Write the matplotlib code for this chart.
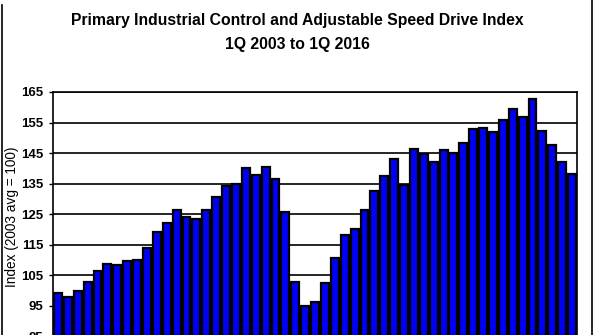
import matplotlib
matplotlib.use("Agg")
import matplotlib.pyplot as plt
from matplotlib.lines import Line2D
import numpy as np

plt.rcParams['font.family'] = ['Liberation Sans', 'DejaVu Sans']

# quarterly index, 1Q 2003 .. 1Q 2016
quarters = [f"{q}Q {y}" for y in range(2003, 2017) for q in range(1, 5)][:53]
index_vals = [
    99.2, 97.8, 99.8, 102.9, 106.5, 108.7, 108.4, 109.7, 110.0, 113.9,
    119.3, 122.0, 126.5, 124.2, 123.4, 126.2, 130.6, 134.1, 135.0, 140.0,
    137.8, 140.4, 136.5, 125.6, 102.9, 94.9, 96.2, 102.6, 110.8, 118.2,
    120.2, 126.2, 132.7, 137.4, 143.1, 134.5, 146.3, 144.8, 142.0, 145.9,
    145.0, 148.3, 152.9, 153.2, 151.8, 155.9, 159.4, 156.7, 162.6, 152.1,
    147.5, 142.2, 138.2,
]
y_ticks = [85, 95, 105, 115, 125, 135, 145, 155, 165]

fig = plt.figure(figsize=(5.95, 3.35), dpi=100)
fig.patch.set_facecolor('white')

# plot area runs off the bottom edge of the image
ax = fig.add_axes([0.0891, -0.0039, 0.8807, 0.7293])
x = np.arange(len(quarters))
ax.bar(x, index_vals, width=0.8, color='#0000f5', edgecolor='black',
       linewidth=1.6, zorder=3)

ax.set_xlim(-0.5, len(quarters) - 0.5)
ax.set_ylim(85, 165)
ax.set_yticks(y_ticks)
ax.set_yticklabels([str(t) for t in y_ticks], fontweight='bold', fontsize=9.5)
ax.set_xticks([])
ax.tick_params(axis='y', direction='out', length=3, width=1, pad=4)
ax.yaxis.grid(True, color='black', linewidth=1.2, zorder=0)
ax.set_axisbelow(True)
for sp in ax.spines.values():
    sp.set_linewidth(1.2)
    sp.set_color('black')

ax.set_ylabel('Index (2003 avg = 100)', fontsize=9.8)
ax.yaxis.set_label_coords(-0.064, 0.49)

fig.text(0.5, 0.94, 'Primary Industrial Control and Adjustable Speed Drive Index',
         ha='center', va='center', fontsize=11.3, fontweight='bold')
fig.text(0.5, 0.868, '1Q 2003 to 1Q 2016',
         ha='center', va='center', fontsize=11.3, fontweight='bold')

# outer frame lines at the image sides
fig.add_artist(Line2D([0.004, 0.004], [0, 0.985], transform=fig.transFigure,
                      color='black', linewidth=1.2))
fig.add_artist(Line2D([0.995, 0.995], [0, 1], transform=fig.transFigure,
                      color='black', linewidth=1.2))

fig.savefig('out.png', dpi=100)
